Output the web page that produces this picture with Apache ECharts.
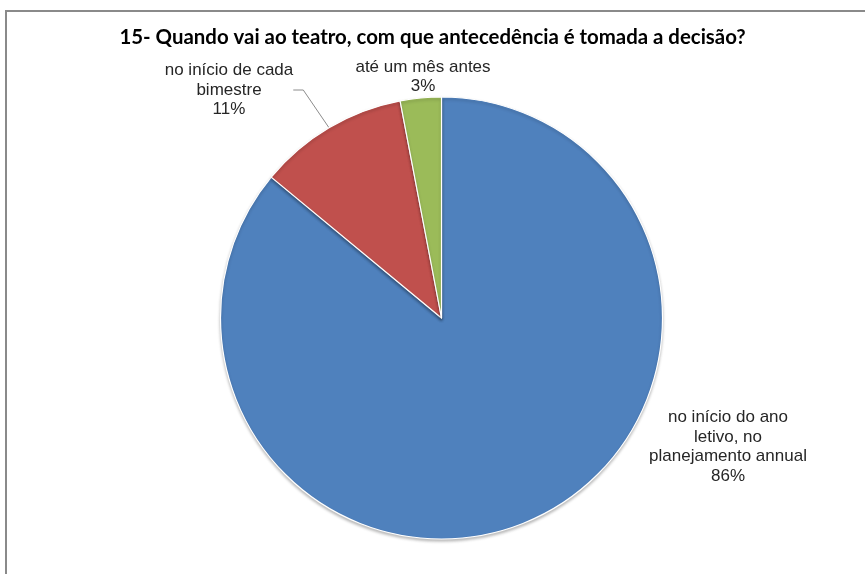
<!DOCTYPE html>
<html>
<head>
<meta charset="utf-8">
<script src="https://cdn.jsdelivr.net/npm/echarts@6/dist/echarts.min.js"></script>
<style>
  html, body { margin: 0; padding: 0; background: #ffffff; }
  #chart { width: 865px; height: 574px; }
</style>
</head>
<body>
<div id="chart"></div>
<script>
// Survey answers: when the theatre-visit decision is taken
const titleText = '15- Quando vai ao teatro, com que antecedência é tomada a decisão?';
const categories = [
  'no início do ano\nletivo, no\nplanejamento annual',
  'no início de cada\nbimestre',
  'até um mês antes'
];
const percentages = [86, 11, 3];
const sliceColors = ['#4F81BD', '#C0504D', '#9BBB59'];

// label anchor points for each slice (page pixels)
const labelSpots = [
  { x: 728, y: 447 },
  { x: 229, y: 90 },
  { x: 423, y: 77 }
];

const chart = echarts.init(document.getElementById('chart'), null, { renderer: 'canvas' });

const seriesData = categories.map((name, i) => ({
  name: name,
  value: percentages[i],
  itemStyle: { color: sliceColors[i] },
  labelLine: { show: i === 1 }
}));

chart.setOption({
  backgroundColor: '#ffffff',
  animation: false,
  title: {
    text: titleText,
    left: 'center',
    top: 22,
    textStyle: {
      fontFamily: 'Lato, "Liberation Sans", sans-serif',
      fontWeight: 'bold',
      fontSize: 20.4,
      color: '#000000'
    }
  },
  graphic: [{
    type: 'rect',
    shape: { x: 6, y: 11, width: 900, height: 620 },
    style: { fill: 'none', stroke: '#8a8a8a', lineWidth: 2 },
    silent: true,
    z: -1
  }],
  series: [{
    type: 'pie',
    center: [441.5, 318],
    radius: [0, 221],
    startAngle: 90,
    clockwise: true,
    avoidLabelOverlap: false,
    data: seriesData,
    itemStyle: {
      borderColor: '#ffffff',
      borderWidth: 1.2,
      shadowBlur: 3,
      shadowOffsetY: 2,
      shadowColor: 'rgba(0,0,0,0.25)'
    },
    label: {
      show: true,
      position: 'outside',
      formatter: p => p.name + '\n' + p.value + '%',
      fontFamily: '"Liberation Sans", Arial, sans-serif',
      fontSize: 17,
      lineHeight: 19.5,
      color: '#262626',
      align: 'center'
    },
    labelLine: {
      length: 10,
      length2: 10,
      lineStyle: { color: '#8c8c8c', width: 1 }
    },
    labelLayout: params => {
      const s = labelSpots[params.dataIndex];
      return { x: s.x, y: s.y, align: 'center', verticalAlign: 'middle' };
    },
    emphasis: { disabled: true }
  }]
});
</script>
</body>
</html>
